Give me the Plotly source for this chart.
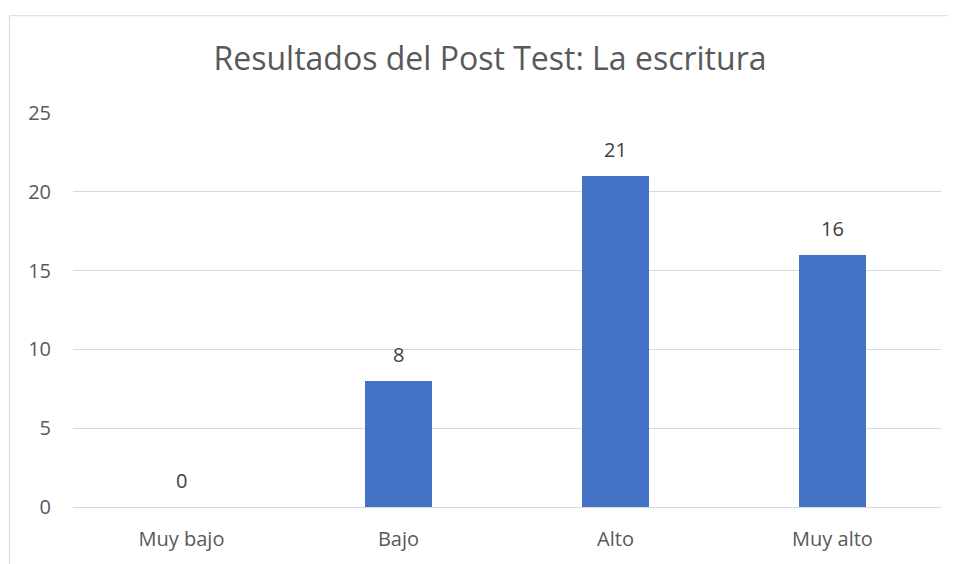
import plotly.graph_objects as go

categories = ["Muy bajo", "Bajo", "Alto", "Muy alto"]
values = [0, 8, 21, 16]
y_ticks = [0, 5, 10, 15, 20, 25]

OFF = 8  # default page body margin
W, H = 956 - OFF, 564 - OFF
L, R, T, B = 73 - OFF, 15, 113 - OFF, 52
pw, ph = W - L - R, H - T - B

def px_x(p):
    return (p - OFF - L) / pw

def px_y(p):
    return (H - B - (p - OFF)) / ph

fig = go.Figure(go.Bar(
    x=categories, y=values, width=0.313,
    marker=dict(color="#4472C4", line=dict(width=0)),
    hoverinfo="x+y",
))

annotations = [dict(x=c, y=v, xref="x", yref="y", text=str(v), showarrow=False,
                    yanchor="bottom", yshift=11, font=dict(size=20, color="#404040"))
               for c, v in zip(categories, values)]

fig.update_layout(
    width=W, height=H,
    margin=dict(l=L, r=R, t=T, b=B),
    paper_bgcolor="white", plot_bgcolor="white",
    font=dict(family="Open Sans", color="#595959", size=20),
    title=dict(text="Resultados del Post Test: La escritura", x=(490 - OFF) / W, xref="container",
               xanchor="center", y=1 - (59 - OFF) / H, yref="container", yanchor="middle",
               font=dict(size=32, color="#595959")),
    showlegend=False,
    bargap=0,
    annotations=annotations,
    shapes=[dict(type="rect", xref="paper", yref="paper",
                 x0=px_x(9.5), x1=px_x(990), y0=px_y(600), y1=px_y(14.5),
                 line=dict(color="#D9D9D9", width=1), fillcolor="rgba(0,0,0,0)", layer="below")],
)
fig.update_yaxes(range=[0, 25], tickvals=y_ticks, showgrid=True, gridcolor="#D9D9D9", gridwidth=1,
                 zeroline=False, showline=False, ticks="", ticklabelstandoff=21,
                 tickfont=dict(size=20, color="#595959"), fixedrange=True)
fig.update_xaxes(showline=True, linecolor="#D9D9D9", linewidth=1, ticks="", ticklabelstandoff=14,
                 tickfont=dict(size=20, color="#595959"), fixedrange=True)

fig.write_html("out.html")
